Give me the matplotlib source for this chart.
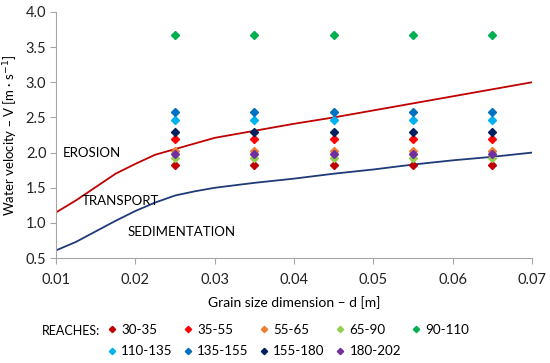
import matplotlib.pyplot as plt
from matplotlib.lines import Line2D

plt.rcParams['font.family'] = ['Lato', 'DejaVu Sans']

# curve values
d_curve = [0.01, 0.0125, 0.015, 0.0175, 0.02, 0.0225, 0.025, 0.0275, 0.03,
           0.035, 0.04, 0.045, 0.05, 0.055, 0.06, 0.065, 0.07]
v_erosion = [1.15, 1.32, 1.51, 1.70, 1.84, 1.97, 2.05, 2.13, 2.21,
             2.31, 2.41, 2.50, 2.60, 2.70, 2.80, 2.90, 3.00]
v_sediment = [0.61, 0.73, 0.88, 1.03, 1.17, 1.29, 1.39, 1.45, 1.50,
              1.57, 1.63, 1.70, 1.76, 1.83, 1.89, 1.94, 2.00]

d_points = [0.025, 0.035, 0.045, 0.055, 0.065]
reaches = ["30-35", "35-55", "55-65", "65-90", "90-110",
           "110-135", "135-155", "155-180", "180-202"]
reach_v = [1.83, 2.20, 2.02, 1.93, 3.67, 2.46, 2.58, 2.30, 1.98]
reach_colors = ["#C00000", "#FF0000", "#ED7D31", "#92D050", "#00B050",
                "#00B0F0", "#0070C0", "#002060", "#7030A0"]

fig = plt.figure(figsize=(5.5, 3.63), dpi=100)
ax = fig.add_axes([0.102, 0.289, 0.865, 0.678])

ax.plot(d_curve, v_erosion, color="#C00000", lw=1.3)
ax.plot(d_curve, v_sediment, color="#1F3A78", lw=1.3)

# draw in an order that puts purple/orange on top like the original
order = [0, 3, 2, 8, 1, 7, 5, 6, 4]
for i in order:
    ax.plot(d_points, [reach_v[i]] * len(d_points), ls="none", marker="D",
            ms=3.6, color=reach_colors[i], mec=reach_colors[i], zorder=3)

ax.text(0.0109, 2.0, "EROSION", fontsize=9.5, va="center")
ax.text(0.0132, 1.31, "TRANSPORT", fontsize=9.5, va="center")
ax.text(0.0190, 0.875, "SEDIMENTATION", fontsize=9.5, va="center")

ax.set_xlim(0.01, 0.07)
ax.set_ylim(0.5, 4.0)
ax.set_xticks([0.01, 0.02, 0.03, 0.04, 0.05, 0.06, 0.07])
ax.set_yticks([0.5, 1.0, 1.5, 2.0, 2.5, 3.0, 3.5, 4.0])
ax.set_xticklabels(["0.01", "0.02", "0.03", "0.04", "0.05", "0.06", "0.07"])
ax.set_yticklabels(["0.5", "1.0", "1.5", "2.0", "2.5", "3.0", "3.5", "4.0"])
ax.tick_params(labelsize=10.5, color="#A6A6A6", length=4, width=0.8,
               labelcolor="#222222", pad=3)
ax.tick_params(axis="x", pad=7)
for s in ["top", "right"]:
    ax.spines[s].set_visible(False)
for s in ["left", "bottom"]:
    ax.spines[s].set_color("#A6A6A6")
ax.set_xlabel("Grain size dimension \u2013 d [m]", fontsize=10, labelpad=6)
ax.set_ylabel("Water velocity \u2013 V [m \u00b7 s$^{-1}$]", fontsize=9.5)
ax.yaxis.set_label_coords(-0.075, 0.5)

# legend laid out column by column, 5 columns
leg_order = [0, 5, 1, 6, 2, 7, 3, 8, 4]
handles = [Line2D([], [], ls="none", marker="D", ms=3.2,
                  color=reach_colors[i]) for i in leg_order]
labels = [reaches[i] for i in leg_order]
fig.legend(handles, labels, ncol=5, loc="upper left", bbox_to_anchor=(0.186, 0.122),
           frameon=False, fontsize=9.6, handlelength=0.6, handletextpad=0.4,
           columnspacing=0.85, labelspacing=0.7, borderaxespad=0)
fig.text(0.076, 0.089, "REACHES:", fontsize=9, va="center")

fig.savefig("out.png", dpi=100)
